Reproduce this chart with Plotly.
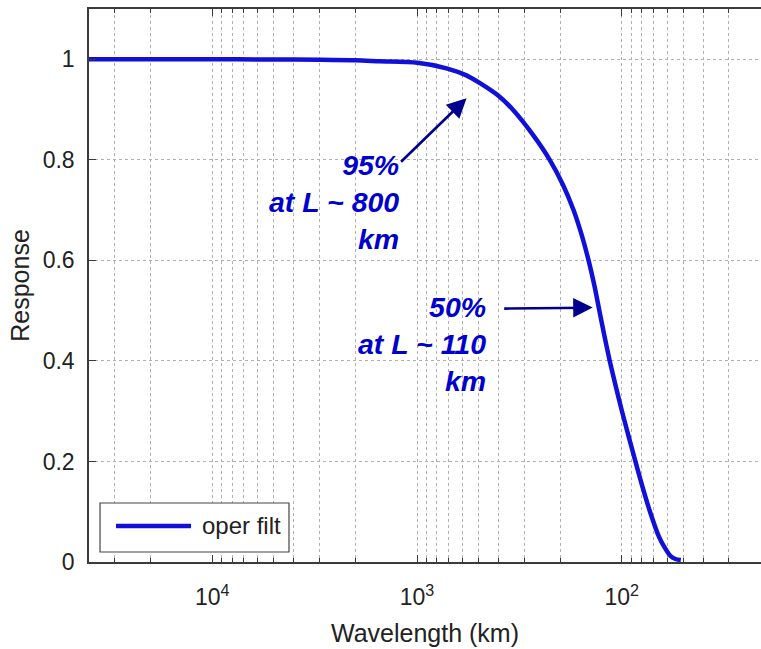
import math
import plotly.graph_objects as go

# ---- data ----
wavelength_km = [40000, 10000, 5000, 3000, 2000, 1524, 995, 718, 574, 495, 399,
                 341, 272, 224.9, 193.6, 172.1, 156.9, 145.3, 136.1, 128.7, 121.6,
                 114.5, 107.1, 99.8, 92.6, 85.8, 79.3, 72.8, 65.8, 62.0, 57.9, 54.7, 51.5]
response = [1.0, 1.0, 0.9995, 0.999, 0.998, 0.996, 0.993, 0.982, 0.968, 0.953, 0.927,
            0.900, 0.850, 0.800, 0.750, 0.700, 0.650, 0.600, 0.550, 0.500, 0.450,
            0.400, 0.350, 0.300, 0.250, 0.200, 0.150, 0.100, 0.050, 0.030, 0.012, 0.006, 0.004]

x_major_vals = [100, 1000, 10000]
x_major_text = ["10<sup>2</sup>", "10<sup>3</sup>", "10<sup>4</sup>"]
x_minor_vals = [30, 40, 50, 60, 70, 80, 90,
                200, 300, 400, 500, 600, 700, 800, 900,
                2000, 3000, 4000, 5000, 6000, 7000, 8000, 9000,
                20000, 30000]
y_tick_vals = [0, 0.2, 0.4, 0.6, 0.8, 1.0]
y_tick_text = ["0", "0.2", "0.4", "0.6", "0.8", "1"]

x_range_km = [40000, 20.9]
y_range = [0, 1.1]

legend_label = "oper filt"
# annotations: (text, text-anchor wavelength, text-anchor response)
note1_text = "<b><i>95%<br>at L ~ 800<br>km</i></b>"
note1_pos = (1191, 0.716)
arrow1_head = (573, 0.9226)
arrow1_tail_px = (-67, 65)
note2_text = "<b><i>50%<br>at L ~ 110<br>km</i></b>"
note2_pos = (452, 0.4345)
arrow2_head = (138.7, 0.506)
arrow2_tail_px = (-90, 1)

FONT = "Liberation Sans, Arial, Helvetica, sans-serif"
TEXT_BLUE = "#0000CC"
ARROW_BLUE = "#00008E"
LINE_BLUE = "#1010d8"
GRID = "#b0b0b0"
AXIS = "#3a3a3a"

fig = go.Figure()
fig.add_trace(go.Scatter(
    x=wavelength_km, y=response, mode="lines", name=legend_label,
    line=dict(color=LINE_BLUE, width=4.5, shape="spline", smoothing=0.8),
    showlegend=False,
))

fig.update_layout(
    width=761, height=649,
    margin=dict(l=89, r=0, t=9, b=87, autoexpand=False),
    paper_bgcolor="white", plot_bgcolor="white",
    font=dict(family=FONT, size=23, color="#222222"),
    showlegend=False,
)

fig.update_xaxes(
    type="log",
    range=[math.log10(x_range_km[0]), math.log10(x_range_km[1])],
    tickmode="array", tickvals=x_major_vals, ticktext=x_major_text,
    ticks="inside", ticklen=7, tickcolor=AXIS, tickwidth=1,
    showline=True, linecolor=AXIS, linewidth=1.5, mirror="ticks",
    showgrid=True, gridcolor=GRID, griddash="dot", gridwidth=1,
    zeroline=False,
    tickfont=dict(size=23, color="#222222"),
    ticklabelstandoff=14,
    minor=dict(tickmode="array", tickvals=x_minor_vals, ticks="inside", ticklen=4,
               tickcolor=AXIS, showgrid=True, gridcolor=GRID, griddash="dot", gridwidth=1),
    title=dict(text="Wavelength (km)", font=dict(size=25, color="#222222"), standoff=15),
    automargin=False,
)
fig.update_yaxes(
    range=y_range,
    tickmode="array", tickvals=y_tick_vals, ticktext=y_tick_text,
    ticks="inside", ticklen=7, tickcolor=AXIS, tickwidth=1,
    showline=True, linecolor=AXIS, linewidth=1.5, mirror=False,
    showgrid=True, gridcolor=GRID, griddash="dot", gridwidth=1,
    zeroline=False,
    tickfont=dict(size=23, color="#222222"),
    ticklabelstandoff=8,
    title=dict(text="Response", font=dict(size=25, color="#222222"), standoff=6),
    automargin=False,
)

# text blocks
for txt, (lx, ly) in [(note1_text, note1_pos), (note2_text, note2_pos)]:
    fig.add_annotation(
        x=math.log10(lx), y=ly, xref="x", yref="y", text=txt, showarrow=False,
        xanchor="right", yanchor="middle", align="right",
        font=dict(family=FONT, size=28.5, color=TEXT_BLUE),
    )
# arrows
for (hx, hy), (tx, ty) in [(arrow1_head, arrow1_tail_px), (arrow2_head, arrow2_tail_px)]:
    fig.add_annotation(
        x=math.log10(hx), y=hy, xref="x", yref="y", text="", showarrow=True,
        ax=tx, ay=ty, arrowhead=2, arrowsize=1.5, arrowwidth=2.6,
        arrowcolor=ARROW_BLUE, standoff=0, startstandoff=0,
    )

# legend box (MATLAB style)
fig.add_shape(type="rect", xref="paper", yref="paper",
              x0=0.0164, x1=0.2976, y0=0.0181, y1=0.1067,
              line=dict(color="#444444", width=1.2), fillcolor="white", layer="above")
fig.add_shape(type="line", xref="paper", yref="paper",
              x0=0.0402, x1=0.1518, y0=0.0651, y1=0.0651,
              line=dict(color=LINE_BLUE, width=4.5), layer="above")
fig.add_annotation(x=0.1652, y=0.0651, xref="paper", yref="paper", text=legend_label,
                   showarrow=False, xanchor="left", yanchor="middle",
                   font=dict(family=FONT, size=24, color="#222222"))

fig.write_html("out.html")
